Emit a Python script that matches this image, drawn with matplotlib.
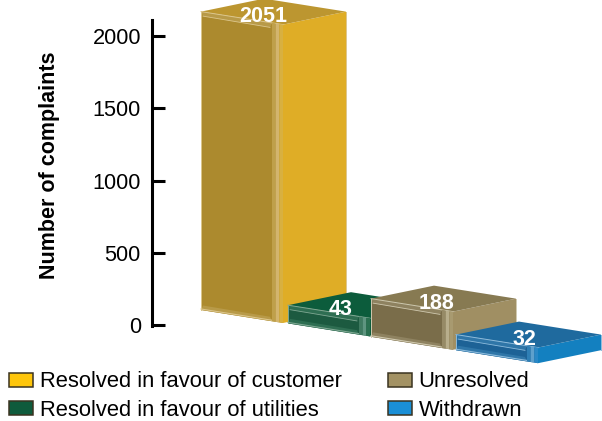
import matplotlib
matplotlib.use('Agg')
import matplotlib.pyplot as plt
from matplotlib.patches import Polygon, Patch

categories = ['Resolved in favour of customer', 'Resolved in favour of utilities',
              'Unresolved', 'Withdrawn']
values = [2051, 43, 188, 32]
yticks = [0, 500, 1000, 1500, 2000]

# face colours per bar
legend_cols = ['#FFC60B', '#0F5B3C', '#A39264', '#1A8FD6']
right_cols = ['#DFAD26', '#0C5C3C', '#A08F63', '#1380C0']
left_cols = ['#AC8A2E', '#1C5A40', '#7A6D4A', '#1D6296']
top_cols = ['#BC9630', '#0C5C3C', '#877A52', '#1F6A9E']
band_cols = ['#B89A48', '#2E6E52', '#8E8260', '#2F76A8']
edge_cols = ['#DCC68C', '#7FA893', '#CFC8AE', '#8CBBDC']
strip_cols = [['#BFA04A', '#D3B56E', '#D8B040'],
              ['#3F7A60', '#5F9580', '#2A7050'],
              ['#968A66', '#B8AE8C', '#A89A70'],
              ['#2F7FB5', '#5FA0CC', '#2A88C6']]

SCALE = 0.1445  # px per complaint
Y0 = 325
FRONT = [283, 370, 453, 538]
PAD = [2, 12, 11, 11]  # the 3d boxes have some thickness even for small values
LABEL_DX = [20, 29, 17, 14]
WL, WR, RISE = 82, 63, 13


def px(x, y):
    # figure pixel to data coords
    return (x, (Y0 - y) / SCALE)


def poly(ax, pts, color, z):
    ax.add_patch(Polygon([px(*p) for p in pts], closed=True, fc=color, ec='none', zorder=z))


def box(ax, i, val):
    fx = FRONT[i]
    bot = 323 + 13.4 * i
    top = bot - val * SCALE - PAD[i]
    lx, rx = fx - WL, fx + WR
    z = 2 + i
    poly(ax, [(lx, bot - RISE), (fx, bot), (fx, top), (lx, top - RISE)], left_cols[i], z)
    poly(ax, [(fx, bot), (rx, bot - RISE), (rx, top - RISE), (fx, top)], right_cols[i], z)
    poly(ax, [(lx, top - RISE), (fx, top), (rx, top - RISE), (lx + WR, top - 2 * RISE)], top_cols[i], z)

    # bevel on the left face
    b = 4.5
    sx = fx - 11
    k = RISE / WL
    poly(ax, [(lx, top - RISE), (sx, top - k * 11), (sx - 2, top - k * 11 + b), (lx + 2, top - RISE + b)],
         band_cols[i], z)
    poly(ax, [(lx, bot - RISE), (sx, bot - k * 11), (sx - 2, bot - k * 11 - b), (lx + 2, bot - RISE - b)],
         band_cols[i], z)
    ax.plot(*zip(px(lx, top - RISE), px(fx, top)), color=edge_cols[i], lw=0.7, zorder=z)
    ax.plot(*zip(px(lx + 2, top - RISE + b), px(sx - 2, top - k * 11 + b)), color=edge_cols[i], lw=0.6, zorder=z)
    ax.plot(*zip(px(lx, bot - RISE - 1), px(sx, bot - k * 11 - 1)), color=edge_cols[i], lw=0.8, zorder=z)
    ax.plot(*zip(px(lx, top - RISE), px(lx, bot - RISE)), color=edge_cols[i], lw=0.7, zorder=z)

    # lighter strip at the front corner
    for j, c in enumerate(strip_cols[i]):
        x0, x1 = sx + j * 11 / 3, sx + (j + 1) * 11 / 3
        poly(ax, [(x0, bot - k * (fx - x0)), (x1, bot - k * (fx - x1)),
                  (x1, top - k * (fx - x1)), (x0, top - k * (fx - x0))], c, z)
    ax.plot(*zip(px(rx, top - RISE), px(rx, bot - RISE)), color=edge_cols[i], lw=0.7, zorder=z)

    tx, ty = px(fx - LABEL_DX[i], top - 8.5)
    ax.text(tx, ty, str(val), color='white', fontweight='bold', fontsize=15.5,
            ha='center', va='center', zorder=10)


def main():
    plt.rcParams['font.family'] = ['Liberation Sans', 'DejaVu Sans']
    fig = plt.figure(figsize=(6.02, 4.21), dpi=100)
    ax = fig.add_axes([0, 0, 1, 1])
    ax.patch.set_alpha(0)
    ax.set_xlim(0, 602)
    ax.set_ylim((Y0 - 421) / SCALE, Y0 / SCALE)

    for i, val in enumerate(values):
        box(ax, i, val)

    for s in ['top', 'right', 'bottom']:
        ax.spines[s].set_visible(False)
    ax.spines['left'].set_position(('data', 152))
    ax.spines['left'].set_linewidth(2.2)
    ax.spines['left'].set_bounds(-8, (Y0 - 20) / SCALE)
    ax.set_xticks([])
    ax.set_yticks(yticks)
    ax.tick_params(axis='y', direction='in', length=9.5, width=2.2, pad=8, labelsize=15.7)
    ax.text(50, 1107, 'Number of complaints', rotation=90, fontweight='bold', fontsize=15.5,
            ha='center', va='center')

    handles = [Patch(fc=c, ec='#3A3320', lw=1.1) for c in legend_cols]
    ax.legend(handles, categories, ncols=2, loc='lower left', bbox_to_anchor=(0.008, -0.01),
              borderaxespad=0, borderpad=0.2, frameon=False, fontsize=15.8, handlelength=1.1,
              handleheight=0.6, handletextpad=0.3, labelspacing=0.34, columnspacing=2.1)

    plt.savefig('out.png', dpi=100)


main()
